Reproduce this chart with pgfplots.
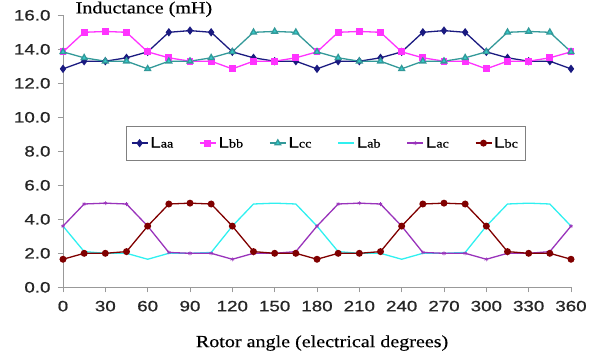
\documentclass[border=0pt]{standalone}
\usepackage{pgfplots}
\pgfplotsset{compat=1.18}
\usepackage{fontspec}
\setmainfont[FakeStretch=1.18,FakeBold=0.4]{Liberation Serif}
\setsansfont[FakeStretch=1.25,FakeBold=0.8]{Liberation Sans}
\definecolor{caa}{HTML}{1A1A80}
\definecolor{cbb}{HTML}{FF33FF}
\definecolor{ccc}{HTML}{339999}
\definecolor{cccf}{HTML}{33CCCC}
\definecolor{cab}{HTML}{30F0F0}
\definecolor{cac}{HTML}{9933BB}
\definecolor{cbc}{HTML}{800000}
\begin{document}
\begin{tikzpicture}
\useasboundingbox (-63pt,-72pt) rectangle (544pt,287.3pt);
\begin{axis}[
  at={(0,0)}, anchor=south west,
  scale only axis, width=508pt, height=272pt,
  xmin=0, xmax=360, ymin=0, ymax=16,
  xtick={0,30,...,360}, ytick={0,2,...,16},
  axis x line*=bottom, axis y line*=left,
  axis line style={color=gray!80, -, line width=0.8pt},
  tick style={color=gray!80, line width=0.8pt},
  tick align=outside, major tick length=5pt,
  clip=false,
  /pgf/number format/assume math mode=true,
  ticklabel style={font=\sffamily\fontsize{15}{15}\selectfont, color=black!85},
  yticklabel={\pgfmathprintnumber[fixed,fixed zerofill,precision=1]{\tick}},
  yticklabel style={xshift=-4pt},
  xticklabel style={yshift=-5pt},
  legend columns=6,
  legend style={at={(axis cs:186,8.48)}, anchor=center, draw=gray, line width=0.8pt,
    font=\fontsize{15}{15}\selectfont, inner xsep=5pt, inner ysep=9pt,
    /tikz/every even column/.append style={column sep=24pt}},
  legend image code/.code={\draw[mark repeat=2,mark phase=2] plot coordinates {(0pt,0pt)(8pt,0pt)(16pt,0pt)};},
  every axis plot/.append style={line width=1.3pt},
]
\addplot[color=caa, mark=diamond*, mark size=3.2pt, mark options={fill=caa}] coordinates {
(0,12.85)(15,13.3)(30,13.3)(45,13.5)(60,13.85)(75,15.0)(90,15.1)(105,15.0)(120,13.85)(135,13.5)(150,13.3)(165,13.3)(180,12.85)(195,13.3)(210,13.3)(225,13.5)(240,13.85)(255,15.0)(270,15.1)(285,15.0)(300,13.85)(315,13.5)(330,13.3)(345,13.3)(360,12.85)};
\addlegendentry{\textsf{L}{\fontsize{12}{12}\selectfont aa}}
\addplot[color=cbb, mark=square*, mark size=2.8pt, mark options={fill=cbb}] coordinates {
(0,13.85)(15,15.0)(30,15.05)(45,15.0)(60,13.85)(75,13.5)(90,13.3)(105,13.3)(120,12.85)(135,13.3)(150,13.3)(165,13.5)(180,13.85)(195,15.0)(210,15.05)(225,15.0)(240,13.85)(255,13.5)(270,13.3)(285,13.3)(300,12.85)(315,13.3)(330,13.3)(345,13.5)(360,13.85)};
\addlegendentry{\textsf{L}{\fontsize{12}{12}\selectfont bb}}
\addplot[color=ccc, mark=triangle*, mark size=3.3pt, mark options={fill=cccf}] coordinates {
(0,13.85)(15,13.5)(30,13.3)(45,13.3)(60,12.85)(75,13.3)(90,13.3)(105,13.5)(120,13.85)(135,15.0)(150,15.05)(165,15.0)(180,13.85)(195,13.5)(210,13.3)(225,13.3)(240,12.85)(255,13.3)(270,13.3)(285,13.5)(300,13.85)(315,15.0)(330,15.05)(345,15.0)(360,13.85)};
\addlegendentry{\textsf{L}{\fontsize{12}{12}\selectfont cc}}
\addplot[color=cab, no marks] coordinates {
(0,3.6)(15,2.1)(30,2.0)(45,2.0)(60,1.65)(75,2.0)(90,2.0)(105,2.05)(120,3.6)(135,4.9)(150,4.95)(165,4.9)(180,3.6)(195,2.1)(210,2.0)(225,2.0)(240,1.65)(255,2.0)(270,2.0)(285,2.05)(300,3.6)(315,4.9)(330,4.95)(345,4.9)(360,3.6)};
\addlegendentry{\textsf{L}{\fontsize{12}{12}\selectfont ab}}
\addplot[color=cac, mark=asterisk, mark size=2pt, mark options={line width=0.6pt}] coordinates {
(0,3.6)(15,4.9)(30,4.95)(45,4.9)(60,3.6)(75,2.05)(90,2.0)(105,2.0)(120,1.65)(135,2.0)(150,2.0)(165,2.1)(180,3.6)(195,4.9)(210,4.95)(225,4.9)(240,3.6)(255,2.05)(270,2.0)(285,2.0)(300,1.65)(315,2.0)(330,2.0)(345,2.1)(360,3.6)};
\addlegendentry{\textsf{L}{\fontsize{12}{12}\selectfont ac}}
\addplot[color=cbc, mark=*, mark size=2.8pt, mark options={fill=cbc}] coordinates {
(0,1.65)(15,2.0)(30,2.0)(45,2.1)(60,3.6)(75,4.9)(90,4.95)(105,4.9)(120,3.6)(135,2.1)(150,2.0)(165,2.0)(180,1.65)(195,2.0)(210,2.0)(225,2.1)(240,3.6)(255,4.9)(270,4.95)(285,4.9)(300,3.6)(315,2.1)(330,2.0)(345,2.0)(360,1.65)};
\addlegendentry{\textsf{L}{\fontsize{12}{12}\selectfont bc}}
\node[anchor=west, font=\fontsize{17}{17}\selectfont] at (axis description cs:0.018,1.022) {Inductance (mH)};
\node[anchor=center, font=\fontsize{17}{17}\selectfont] at (axis description cs:0.51,-0.205) {Rotor angle (electrical degrees)};
\end{axis}
\end{tikzpicture}
\end{document}
